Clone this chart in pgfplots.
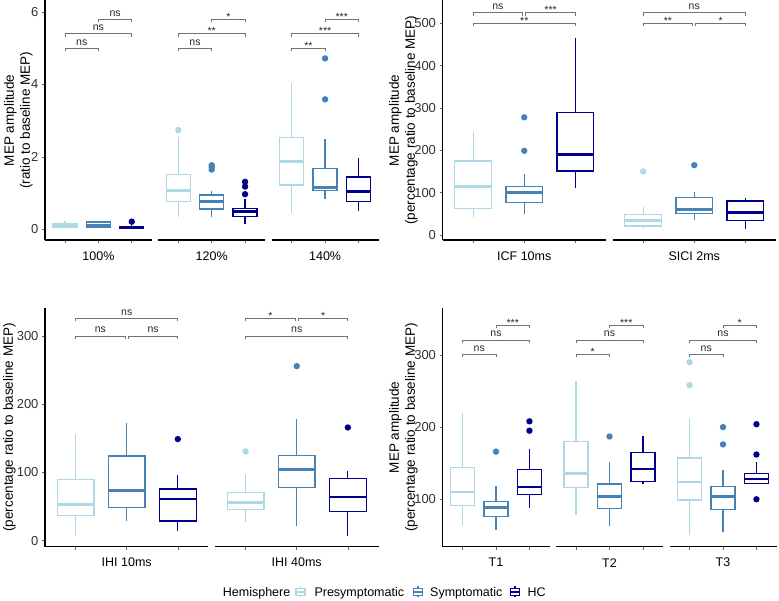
\documentclass[border=0pt]{standalone}
\usepackage{fontspec}
\setmainfont{Liberation Sans}
\usepackage{pgfplots}
\pgfplotsset{compat=1.18}
\usepgfplotslibrary{statistics}
\definecolor{pre}{HTML}{ADD8E6}
\definecolor{sym}{HTML}{4682B4}
\definecolor{hc}{HTML}{00008B}

\pgfplotsset{
  facet/.style={
    scale only axis, anchor=south west,
    xmin=4, xmax=36,
    axis x line*=bottom,
    axis line style={line width=1.3pt, black},
    xtick={10,20,30}, xticklabels={},
    tick align=outside, major tick length=3pt,
    tick style={black!60, line width=0.6pt},
    clip=false,
    /pgf/number format/assume math mode=true,
    yticklabel style={font=\fontsize{13}{13}\selectfont, text=black!80},
    xlabel style={font=\fontsize{12.5}{13}\selectfont, at={([yshift=-16pt]axis description cs:0.5,0)}, anchor=center},
    ylabel style={font=\fontsize{13.5}{16}\selectfont, align=center, text=black},
  },
  firstfacet/.style={facet, axis y line*=left},
  otherfacet/.style={facet, axis y line=none, ytick=\empty},
  boxstyle/.style={line width=1.3pt, fill=white, mark=*, mark size=2.5pt,
    boxplot/draw direction=y,
    boxplot/whisker extend=0, boxplot/box extend=7.2,
    boxplot/every median/.style={line width=2.8pt}},
  pre/.style={boxstyle, draw=pre, mark options={solid, fill=pre, draw=none}},
  sym/.style={boxstyle, draw=sym, mark options={solid, fill=sym, draw=none}},
  hc/.style={boxstyle, draw=hc, mark options={solid, fill=hc, draw=none}},
}

% \bx{style}{pos}{lw}{q1}{med}{q3}{uw}{outliers}
\newcommand{\bx}[8]{%
  \addplot[#1, boxplot prepared={draw position=#2, lower whisker=#3, lower quartile=#4, median=#5, upper quartile=#6, upper whisker=#7}] coordinates {#8};
}
% \sig{x1}{x2}{h}{label}{shift}
\newcommand{\sig}[5]{%
  \draw[black!55, line width=0.7pt] ([yshift=-3pt]axis cs:#1,#3) -- (axis cs:#1,#3) -- (axis cs:#2,#3) -- ([yshift=-3pt]axis cs:#2,#3);
  \node[font=\fontsize{10.5}{10.5}\selectfont, text=black!85, anchor=base, inner sep=0pt] at ([yshift=#5]axis cs:{(#1+#2)/2},#3) {#4};
}
\newcommand{\ns}[3]{\sig{#1}{#2}{#3}{ns}{3.2pt}}
\newcommand{\st}[4]{\sig{#1}{#2}{#3}{#4}{-0.8pt}}

\begin{document}
\begin{tikzpicture}
\useasboundingbox (0pt,0pt) rectangle (779pt,601pt);

% ================= Panel A =================
\begin{axis}[firstfacet, at={(45pt,361pt)}, width=106.8pt, height=239.5pt,
  ymin=-0.296, ymax=6.32, ytick={0,2,4,6}, xlabel={100\%},
  ylabel={MEP amplitude\\(ratio to baseline MEP)},
  ylabel style={at={([xshift=-26.7pt]axis description cs:0,0.5)}, anchor=center}]
\bx{pre}{10}{0.03}{0.06}{0.10}{0.16}{0.22}{}
\bx{sym}{20}{0.04}{0.06}{0.11}{0.20}{0.24}{}
\bx{hc}{30}{0.01}{0.03}{0.06}{0.08}{0.12}{(0,0.21)}
\ns{10}{20}{5.0}
\ns{10}{30}{5.4}
\ns{20}{30}{5.8}
\end{axis}
\begin{axis}[otherfacet, at={(158.3pt,361pt)}, width=106.8pt, height=239.5pt,
  ymin=-0.296, ymax=6.32, xlabel={120\%}]
\bx{pre}{10}{0.35}{0.76}{1.08}{1.51}{2.56}{(0,2.74)}
\bx{sym}{20}{0.33}{0.56}{0.77}{0.95}{1.07}{(0,1.65) (0,1.72) (0,1.77)}
\bx{hc}{30}{0.15}{0.35}{0.49}{0.58}{0.83}{(0,0.97) (0,1.18) (0,1.31)}
\ns{10}{20}{5.0}
\st{10}{30}{5.4}{**}
\st{20}{30}{5.8}{*}
\end{axis}
\begin{axis}[otherfacet, at={(271.7pt,361pt)}, width=106.8pt, height=239.5pt,
  ymin=-0.296, ymax=6.32, xlabel={140\%}]
\bx{pre}{10}{0.44}{1.22}{1.87}{2.53}{4.03}{}
\bx{sym}{20}{0.84}{1.07}{1.16}{1.67}{2.49}{(0,3.59) (0,4.72)}
\bx{hc}{30}{0.51}{0.76}{1.04}{1.44}{1.96}{}
\st{10}{20}{5.0}{**}
\st{10}{30}{5.4}{***}
\st{20}{30}{5.8}{***}
\end{axis}

% ================= Panel B =================
\begin{axis}[firstfacet, at={(442.5pt,361pt)}, width=163.5pt, height=239.5pt,
  ymin=-11.8, ymax=554, ytick={0,100,200,300,400,500}, xlabel={ICF 10ms},
  ylabel={MEP amplitude\\(percentage ratio to baseline MEP)},
  ylabel style={at={([xshift=-39pt]axis description cs:0,0.5)}, anchor=center}]
\bx{pre}{10}{43}{62}{114}{175}{244}{}
\bx{sym}{20}{49}{76}{100}{114}{144}{(0,199) (0,278)}
\bx{hc}{30}{110}{151}{191}{289}{466}{}
\ns{10}{19.7}{525}
\st{20.3}{30}{525}{***}
\st{10}{30}{500}{**}
\end{axis}
\begin{axis}[otherfacet, at={(612.5pt,361pt)}, width=163.5pt, height=239.5pt,
  ymin=-11.8, ymax=554, xlabel={SICI 2ms}]
\bx{pre}{10}{13}{21}{34}{49}{67}{(0,150)}
\bx{sym}{20}{35}{51}{60}{88}{102}{(0,165)}
\bx{hc}{30}{14}{35}{54}{80}{88}{}
\ns{10}{30}{525}
\st{10}{19.7}{500}{**}
\st{20.3}{30}{500}{*}
\end{axis}

% ================= Panel C =================
\begin{axis}[firstfacet, at={(45pt,54.3pt)}, width=163.5pt, height=238.7pt,
  ymin=-8.8, ymax=341.2, ytick={0,100,200,300}, xlabel={IHI 10ms},
  ylabel={(percentage ratio to baseline MEP)},
  ylabel style={at={([xshift=-35.7pt]axis description cs:0,0.5)}, anchor=center}]
\bx{pre}{10}{7}{37}{53}{90}{156}{}
\bx{sym}{20}{29}{49}{74}{124}{172}{}
\bx{hc}{30}{14}{29}{61}{76}{96}{(0,149)}
\ns{10}{30}{326}
\ns{10}{19.7}{300}
\ns{20.3}{30}{300}
\end{axis}
\begin{axis}[otherfacet, at={(215pt,54.3pt)}, width=163.5pt, height=238.7pt,
  ymin=-8.8, ymax=341.2, xlabel={IHI 40ms}]
\bx{pre}{10}{27}{46}{56}{71}{98}{(0,131)}
\bx{sym}{20}{21}{78}{104}{125}{178}{(0,256)}
\bx{hc}{30}{7}{43}{64}{91}{102}{(0,166)}
\st{10}{19.7}{326}{*}
\st{20.3}{30}{326}{*}
\ns{10}{30}{300}
\end{axis}

% ================= Panel D =================
\begin{axis}[firstfacet, at={(442.5pt,54.3pt)}, width=107pt, height=238.7pt,
  ymin=34.3, ymax=365, ytick={100,200,300}, xlabel={T1},
  ylabel={MEP amplitude\\(percentage ratio to baseline MEP)},
  ylabel style={at={([xshift=-39pt]axis description cs:0,0.5)}, anchor=center}]
\bx{pre}{10}{63}{91}{110}{144}{220}{}
\bx{sym}{20}{58}{76}{89}{97}{119}{(0,166)}
\bx{hc}{30}{88}{107}{117}{141}{170}{(0,195) (0,208)}
\ns{10}{20}{300.8}
\ns{10}{30}{320.6}
\st{20}{30}{341}{***}
\end{axis}
\begin{axis}[otherfacet, at={(556pt,54.3pt)}, width=107pt, height=238.7pt,
  ymin=34.3, ymax=365, xlabel={T2}]
\bx{pre}{10}{78}{116}{136}{180}{264}{}
\bx{sym}{20}{63}{87}{104}{121}{151}{(0,187)}
\bx{hc}{30}{121}{125}{142}{165}{187}{}
\st{10}{20}{300.8}{*}
\ns{10}{30}{320.6}
\st{20}{30}{341}{***}
\end{axis}
\begin{axis}[otherfacet, at={(669.5pt,54.3pt)}, width=107pt, height=238.7pt,
  ymin=34.3, ymax=365, xlabel={T3}]
\bx{pre}{10}{51}{99}{124}{157}{213}{(0,258) (0,290)}
\bx{sym}{20}{54}{86}{104}{118}{140}{(0,176) (0,200)}
\bx{hc}{30}{121}{122}{128}{136}{152}{(0,100) (0,162) (0,204)}
\ns{10}{20}{300.8}
\ns{10}{30}{320.6}
\st{20}{30}{341}{*}
\end{axis}

% ================= Legend =================
\begin{scope}[font=\fontsize{12.5}{13}\selectfont]
\node[anchor=base east, inner sep=0pt] at (290.5pt,4.3pt) {Hemisphere};
\foreach \cx/\col in {300.5/pre, 418/sym, 515/hc}{
  \draw[\col, line width=1.1pt] (\cx pt,3.5pt) -- (\cx pt,14.5pt);
  \draw[\col, line width=1.1pt, fill=white] (\cx pt-4.5pt,5.5pt) rectangle (\cx pt+4.5pt,12.5pt);
  \draw[\col, line width=1.8pt] (\cx pt-4.5pt,9pt) -- (\cx pt+4.5pt,9pt);
}
\node[anchor=base west, inner sep=0pt] at (314.3pt,4.3pt) {Presymptomatic};
\node[anchor=base west, inner sep=0pt] at (430pt,4.3pt) {Symptomatic};
\node[anchor=base west, inner sep=0pt] at (527.3pt,4.3pt) {HC};
\end{scope}
\end{tikzpicture}
\end{document}
